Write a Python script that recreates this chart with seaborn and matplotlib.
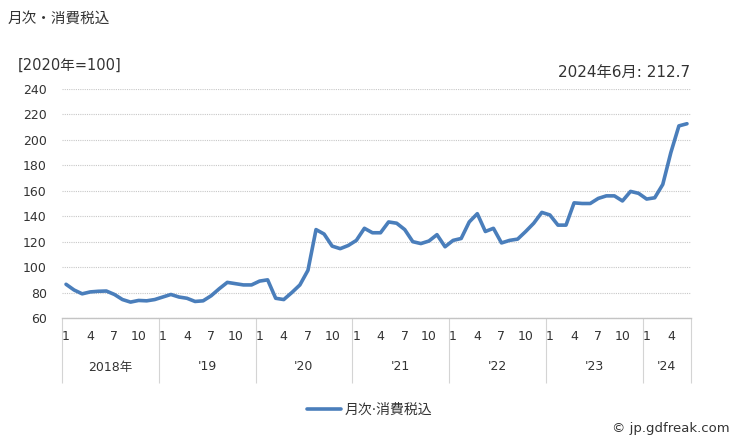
import numpy as np
import pandas as pd
import matplotlib
matplotlib.use('Agg')
import matplotlib.pyplot as plt
import matplotlib.transforms as mtransforms
import seaborn as sns

# ── data (monthly index, 2020 = 100) ─────────────────────────
v2018 = [86.5, 82, 79, 80.5, 81, 81.2, 78.5, 74.5, 72.5, 73.8, 73.5, 74.5]
v2019 = [76.5, 78.5, 76.5, 75.5, 73, 73.5, 77.5, 83, 88, 87, 86, 86]
v2020 = [89, 90, 75.5, 74.5, 80, 86, 97.5, 129.5, 126, 116.5, 114.5, 117]
v2021 = [121, 130.5, 127, 127, 135.5, 134.5, 129.5, 120, 118.5, 120.5, 125.5, 116]
v2022 = [121, 122.5, 135.5, 142, 128, 130.5, 119, 121, 122, 128, 134.5, 143]
v2023 = [141, 133, 133, 150.5, 150, 150, 154, 156, 156, 152, 159.5, 158]
v2024 = [153.5, 154.5, 165, 190, 211, 212.7]

years = [2018, 2019, 2020, 2021, 2022, 2023, 2024]
year_labels = ['2018年', "'19", "'20", "'21", "'22", "'23", "'24"]
month_ticks = [1, 4, 7, 10]
y_ticks = [60, 80, 100, 120, 140, 160, 180, 200, 220, 240]

series_name = '月次·消費税込'
title = '月次・消費税込'
unit = '[2020年=100]'
latest = '2024年6月: 212.7'

all_vals = [v2018, v2019, v2020, v2021, v2022, v2023, v2024]
rows = []
for yr, vals in zip(years, all_vals):
    for m, v in enumerate(vals, start=1):
        rows.append({'year': yr, 'month': m, 'value': v})
df = pd.DataFrame(rows)
df['pos'] = np.arange(len(df))

# ── style ────────────────────────────────────────────────────
sns.set_style('white')
plt.rcParams['font.family'] = ['DejaVu Sans', 'Noto Sans CJK JP']

line_col = '#4a7ebb'
text_col = '#333333'
grid_col = '#c8c8c8'

fig = plt.figure(figsize=(7.35, 4.36), dpi=100)
ax = fig.add_axes([62 / 735, 1 - 318 / 436, (691 - 62) / 735, (318 - 89) / 436])

sns.lineplot(data=df, x='pos', y='value', ax=ax, color=line_col,
             linewidth=2.6, label=series_name, legend=False)

n = len(df)
ax.set_xlim(-0.5, n - 0.5)
ax.set_ylim(60, 240)
ax.set_yticks(y_ticks)
ax.yaxis.grid(True, color=grid_col, linestyle=(0, (1, 1)), linewidth=0.8)
ax.set_axisbelow(True)
for s in ['top', 'right', 'left']:
    ax.spines[s].set_visible(False)
ax.spines['bottom'].set_color('#c4c4c4')
ax.spines['bottom'].set_linewidth(1.0)
ax.tick_params(axis='y', length=0, pad=11, labelsize=9, labelcolor=text_col)
ax.tick_params(axis='x', length=0, pad=9, labelsize=9, labelcolor=text_col)
ax.set_xlabel('')
ax.set_ylabel('')

# month tick labels
tick_df = df[df['month'].isin(month_ticks)]
ax.set_xticks(tick_df['pos'])
ax.set_xticklabels(tick_df['month'].astype(str))

# year labels and separators below the axis
trans = mtransforms.blended_transform_factory(ax.transData, ax.transAxes)
sep_bottom = -(383 - 318) / (318 - 89)
year_y = -(367 - 318) / (318 - 89)
bounds = []
for yr, lab in zip(years, year_labels):
    sub = df[df['year'] == yr]
    lo = sub['pos'].min() - 0.5
    hi = sub['pos'].max() + 0.5
    bounds.append(lo)
    ax.text((lo + hi) / 2, year_y, lab, transform=trans, ha='center',
            va='center', fontsize=9, color=text_col)
bounds.append(n - 0.5)
ax.vlines(bounds, sep_bottom, 0, transform=trans, colors='#d4d4d4',
          linewidth=0.8, clip_on=False)

# texts
fig.text(8 / 735, 1 - 18 / 436, title, fontsize=10.5, color=text_col,
         ha='left', va='center')
fig.text(18 / 735, 1 - 65 / 436, unit, fontsize=10.5, color=text_col,
         ha='left', va='center')
fig.text(690 / 735, 1 - 72 / 436, latest, fontsize=11, color=text_col,
         ha='right', va='center')
fig.text(730 / 735, 1 - 428 / 436, '© jp.gdfreak.com', fontsize=9.5,
         color=text_col, ha='right', va='center')

# legend
handles, labels = ax.get_legend_handles_labels()
fig.legend(handles, labels, loc='center', bbox_to_anchor=(370 / 735, 1 - 410 / 436),
           frameon=False, fontsize=10, handlelength=2.4, handletextpad=0.3,
           labelcolor=text_col)

fig.savefig('out.png', dpi=100)
